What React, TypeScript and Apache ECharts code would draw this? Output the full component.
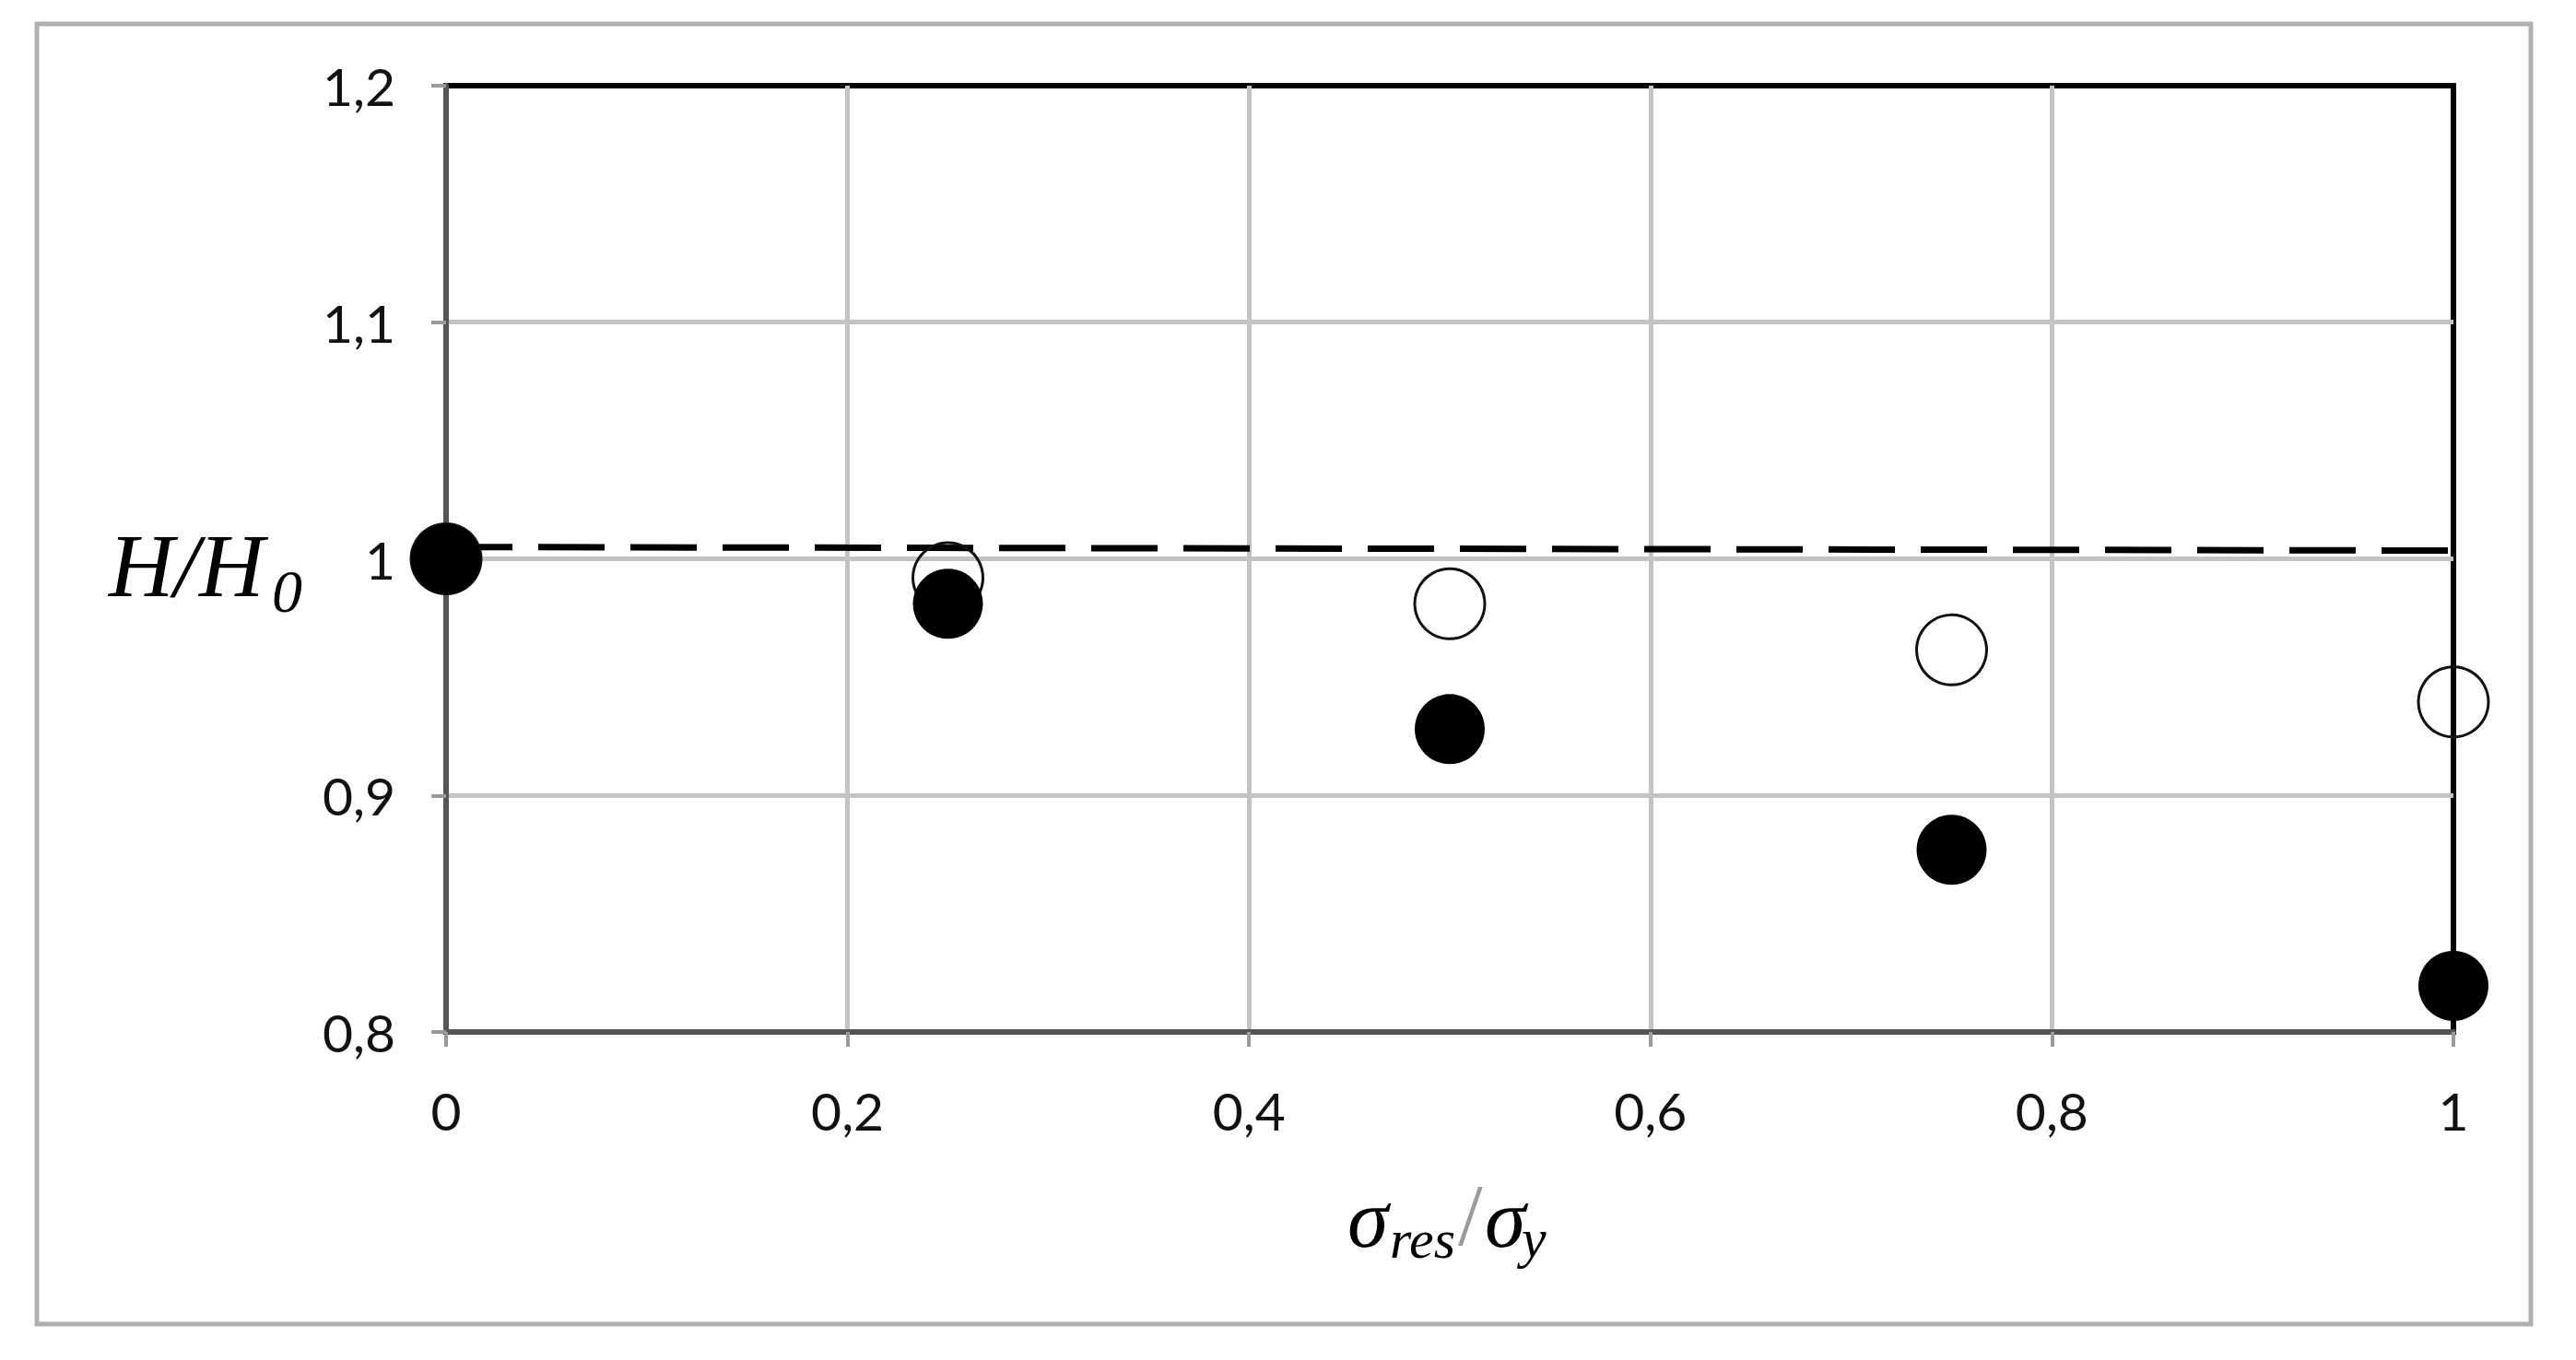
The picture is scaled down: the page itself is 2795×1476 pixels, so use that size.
import React, { useEffect, useRef } from 'react';
import * as echarts from 'echarts';

// ---- data ----
const xValues = [0, 0.25, 0.5, 0.75, 1];
const filledValues = [1.0, 0.981, 0.928, 0.877, 0.8195];
const openValues = [1.0, 0.992, 0.981, 0.9615, 0.9395];
const referenceX = [0, 1];
const referenceValues = [1.005, 1.0035];

const xMin = 0;
const xMax = 1;
const xStep = 0.2;
const yMin = 0.8;
const yMax = 1.2;
const yStep = 0.1;

const fmt = (v: number) => String(Math.round(v * 10) / 10).replace('.', ',');

const serif = '"Liberation Serif", "Times New Roman", serif';
const sans = 'Lato, "Open Sans", sans-serif';

function textEl(text: string, x: number, y: number, size: number, opts: any = {}) {
  return {
    type: 'text',
    z: 20,
    silent: true,
    style: {
      text,
      x,
      y,
      fontFamily: serif,
      fontSize: size,
      fontStyle: opts.fontStyle ?? 'italic',
      fill: opts.fill ?? '#000',
      align: 'left',
      verticalAlign: 'middle',
      textAlign: 'left',
      textVerticalAlign: 'middle',
    },
  };
}

export default function App() {
  const ref = useRef<HTMLDivElement>(null);

  useEffect(() => {
    document.body.style.margin = '0';
    document.body.style.overflow = 'hidden';
    const chart = echarts.init(ref.current!, undefined, { renderer: 'svg' });

    const option: any = {
      animation: false,
      backgroundColor: '#fff',
      grid: {
        left: 484,
        right: 133,
        top: 93,
        bottom: 356,
        containLabel: false,
        show: true,
        borderColor: '#000',
        borderWidth: 6,
        backgroundColor: 'transparent',
      },
      xAxis: {
        type: 'value',
        min: xMin,
        max: xMax,
        interval: xStep,
        axisLine: { show: true, onZero: false, lineStyle: { color: '#555', width: 6 } },
        axisTick: { show: true, length: 16, lineStyle: { color: '#9a9a9a', width: 4 } },
        axisLabel: {
          margin: 56,
          fontFamily: sans,
          fontSize: 57,
          color: '#111',
          formatter: fmt,
        },
        splitLine: {
          show: true,
          showMinLine: false,
          showMaxLine: false,
          lineStyle: { color: '#c3c3c3', width: 5 },
        },
      },
      yAxis: {
        type: 'value',
        min: yMin,
        max: yMax,
        interval: yStep,
        axisLine: { show: true, onZero: false, lineStyle: { color: '#555', width: 6 } },
        axisTick: { show: true, length: 16, lineStyle: { color: '#9a9a9a', width: 4 } },
        axisLabel: {
          margin: 55,
          fontFamily: sans,
          fontSize: 57,
          color: '#111',
          formatter: fmt,
        },
        splitLine: {
          show: true,
          showMinLine: false,
          showMaxLine: false,
          lineStyle: { color: '#c3c3c3', width: 5 },
        },
      },
      series: [
        {
          type: 'line',
          data: referenceX.map((x, i) => [x, referenceValues[i]]),
          showSymbol: false,
          symbol: 'none',
          lineStyle: { color: '#000', width: 7, type: [72, 28] },
          z: 3,
          silent: true,
        },
        {
          type: 'scatter',
          data: xValues.map((x, i) => [x, openValues[i]]),
          symbol: 'circle',
          symbolSize: 76,
          itemStyle: { color: 'rgba(0,0,0,0)', borderColor: '#111', borderWidth: 3, opacity: 1 },
          z: 4,
          silent: true,
        },
        {
          type: 'scatter',
          data: xValues.map((x, i) => [x, filledValues[i]]),
          symbol: 'circle',
          symbolSize: 76,
          itemStyle: { color: '#000', opacity: 1 },
          z: 5,
          silent: true,
        },
      ],
      graphic: [
        {
          type: 'rect',
          z: 0,
          silent: true,
          shape: { x: 40, y: 26, width: 2706, height: 1411 },
          style: { fill: 'none', stroke: '#b0b0b0', lineWidth: 5 },
        },
        // y axis name: H/H0
        textEl('H/H', 118, 614, 98),
        textEl('0', 295, 641, 66),
        // x axis name: σres/σy
        textEl('σ', 1462, 1322, 90),
        textEl('res', 1508, 1345, 60),
        textEl('/', 1582, 1318, 96, { fontStyle: 'normal', fill: '#9a9a9a' }),
        textEl('σ', 1611, 1322, 90),
        textEl('y', 1651, 1344, 60),
      ],
    };

    chart.setOption(option);
    return () => chart.dispose();
  }, []);

  return <div ref={ref} style={{ width: 2795, height: 1476 }} />;
}
